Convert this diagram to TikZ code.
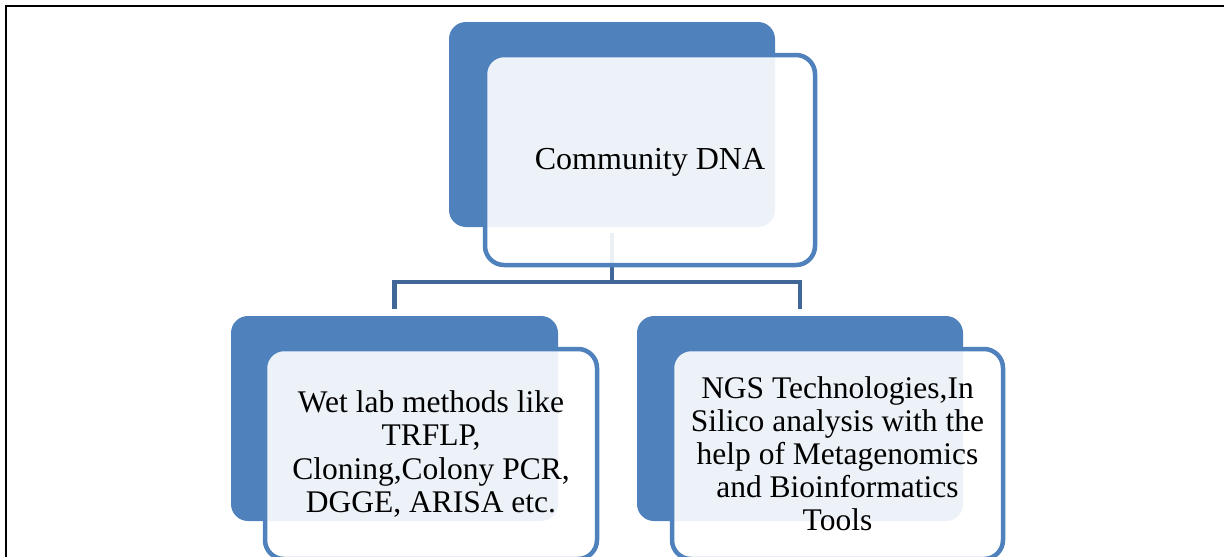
\documentclass[tikz,border=0pt]{standalone}
\usepackage{fontspec}
\setmainfont{Liberation Serif}
\definecolor{boxblue}{RGB}{79,129,189}
\definecolor{connblue}{RGB}{64,103,152}
\tikzset{
  backbox/.style={draw=none, fill=boxblue, rounded corners=17pt, inner sep=0pt},
  frontbox/.style={draw=boxblue, line width=4.5pt, fill=white, fill opacity=0.9, text opacity=1,
    rounded corners=19pt, inner sep=0pt, align=center, text=black},
  conn/.style={draw=connblue, line width=4.5pt},
}
\begin{document}
\begin{tikzpicture}[x=1pt,y=-1pt]
\useasboundingbox (0,0) rectangle (1224,557);
\clip (0,0) rectangle (1224,557);
\fill[white] (0,0) rectangle (1224,557);
% frame
\draw[black, line width=2pt] (1224,6) -- (6,6) -- (6,560);
% back boxes
\node[backbox, minimum width=326pt, minimum height=205pt] (topback) at (612,124.5) {};
\node[backbox, minimum width=327pt, minimum height=205pt] (lback) at (394.5,418.5) {};
\node[backbox, minimum width=326pt, minimum height=205pt] (rback) at (800,418.5) {};
% connectors
\coordinate (hub) at (612,282);
\draw[conn] ([yshift=-6pt]topback.south) -- (hub);
\draw[conn] ([yshift=7pt]lback.north) |- (hub) -| ([yshift=7pt]rback.north);
% front boxes
\node[frontbox, minimum width=330pt, minimum height=210pt, font=\fontsize{32}{34}\selectfont] (top) at (650,160) {\raisebox{-9pt}[0pt][0pt]{Community DNA}};
\node[frontbox, minimum width=332pt, minimum height=210pt, font=\fontsize{31.5}{33.5}\selectfont] (left) at (431,454)
  {Wet lab methods like\\TRFLP,\\Cloning,Colony PCR,\\DGGE, ARISA etc.};
\node[frontbox, minimum width=331pt, minimum height=210pt, font=\fontsize{31.5}{33}\selectfont] (right) at (837.5,454)
  {NGS Technologies,In\\Silico analysis with the\\help of Metagenomics\\and Bioinformatics\\Tools};
\end{tikzpicture}
\end{document}
